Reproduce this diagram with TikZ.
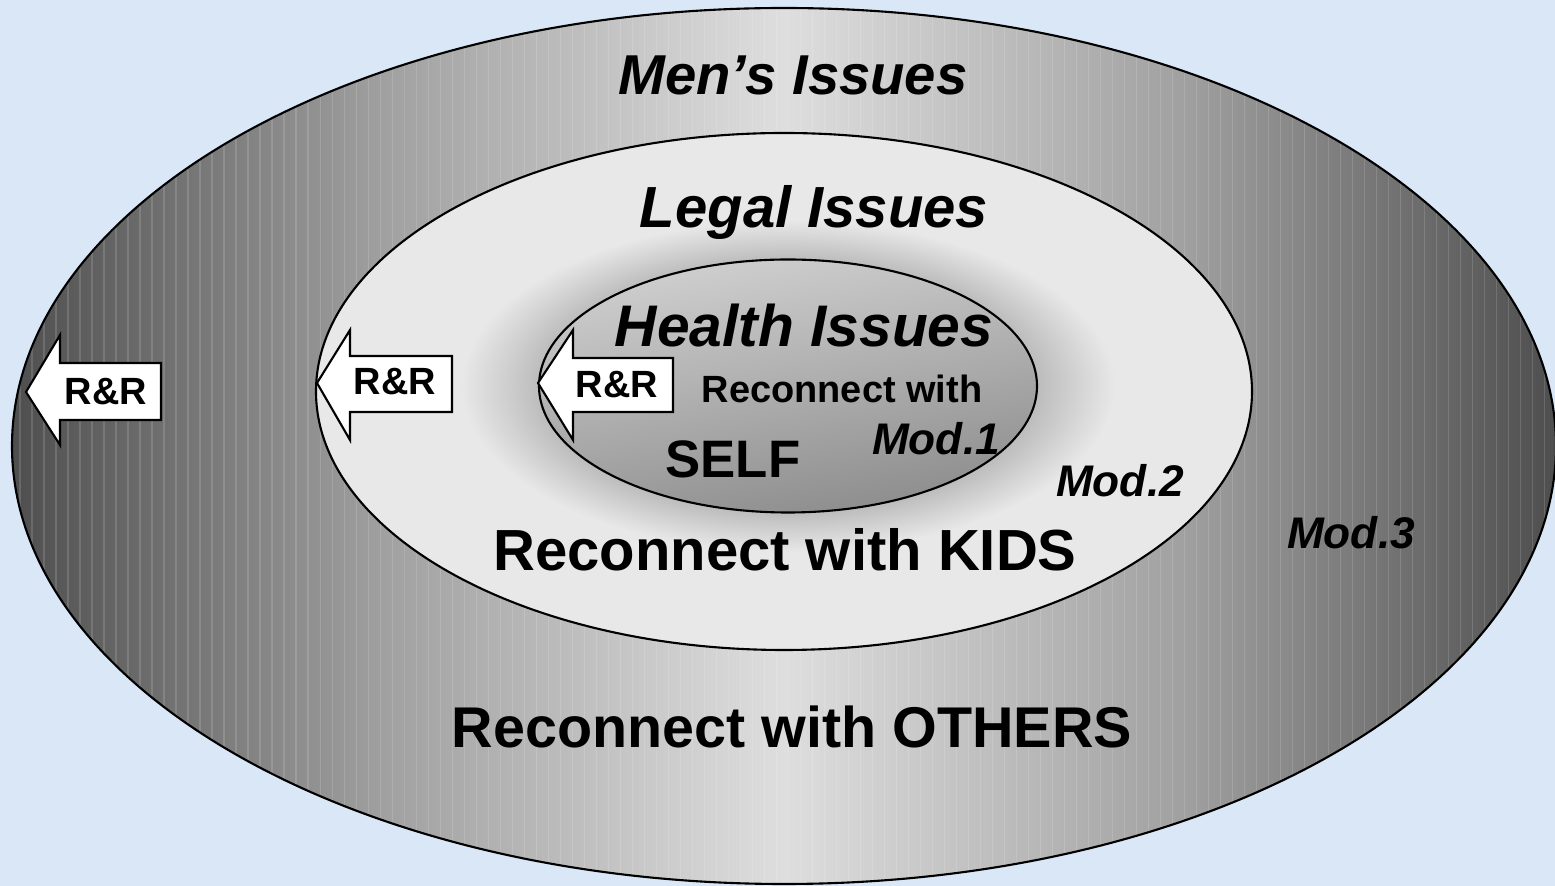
\documentclass[tikz,border=0pt]{standalone}
\usepackage{fontspec}
\setmainfont{Liberation Sans}
\definecolor{paper}{RGB}{218,231,246}
\definecolor{bandedge}{RGB}{78,78,78}
\definecolor{bandmid}{RGB}{160,160,160}
\definecolor{bandlight}{RGB}{222,222,222}
\definecolor{midfill}{RGB}{232,232,232}
\definecolor{glowdark}{RGB}{188,188,188}
\definecolor{coretop}{RGB}{208,208,208}
\definecolor{corebot}{RGB}{140,140,140}
\pgfdeclarehorizontalshading{outerband}{100bp}{color(0bp)=(bandedge); color(25bp)=(bandedge); color(37bp)=(bandmid); color(50bp)=(bandlight); color(63bp)=(bandmid); color(75bp)=(bandedge); color(100bp)=(bandedge)}
\pgfdeclareradialshading{glow}{\pgfpoint{0bp}{0bp}}{color(0bp)=(glowdark); color(19bp)=(glowdark); color(25bp)=(midfill); color(50bp)=(midfill)}
\tikzset{
  ring/.style={draw=black, line width=0.6pt},
  rr/.style={draw=black, fill=white, line width=0.6pt, line join=miter},
  big/.style={anchor=base, font=\bfseries\fontsize{#1}{#1}\selectfont},
  issue/.style={anchor=base, font=\bfseries\itshape\fontsize{#1}{#1}\selectfont},
}
\begin{document}
\begin{tikzpicture}
\useasboundingbox (0,0) rectangle (15.55,8.86);
\fill[paper] (0,0) rectangle (15.55,8.86);

\shade[shading=outerband] (7.84,4.40) ellipse (7.72 and 4.38);
\begin{scope}
\clip (7.84,4.40) ellipse (7.72 and 4.38);
\foreach \x in {0.2,0.32,...,15.5}
  \draw[white, opacity=0.14, line width=0.3pt] (\x,0) -- (\x,8.86);
\end{scope}
\draw[ring] (7.84,4.40) ellipse (7.72 and 4.38);
\fill[midfill] (7.84,4.945) ellipse (4.68 and 2.585);
\shade[shading=glow] (7.88,5.00) ellipse (3.27 and 1.66);
\draw[ring] (7.84,4.945) ellipse (4.68 and 2.585);
\shade[ring, top color=coretop, bottom color=corebot, shading angle=10] (7.88,5.00) ellipse (2.49 and 1.265);

\draw[rr] (0.26,4.94) -- (0.60,5.51) -- (0.60,5.23) -- (1.61,5.23) -- (1.61,4.66) -- (0.60,4.66) -- (0.60,4.41) -- cycle;
\node[big=10.8] at (1.06,4.81) (rr3) {R\&R};
\draw[rr] (3.17,5.03) -- (3.50,5.56) -- (3.50,5.30) -- (4.52,5.30) -- (4.52,4.74) -- (3.50,4.74) -- (3.50,4.46) -- cycle;
\node[big=10.8] at (3.95,4.91) (rr2) {R\&R};
\draw[rr] (5.38,5.03) -- (5.73,5.56) -- (5.73,5.28) -- (6.73,5.28) -- (6.73,4.74) -- (5.73,4.74) -- (5.73,4.46) -- cycle;
\node[big=10.8] at (6.17,4.88) (rr1) {R\&R};

\node[issue=16] at (7.93,7.91) (men) {Men’s Issues};
\node[issue=16.5] at (8.14,6.58) (legal) {Legal Issues};
\node[issue=16.7] at (8.04,5.39) (health) {Health Issues};
\node[big=10.8] at (8.42,4.83) (self1) {Reconnect with};
\node[big=15] at (7.33,4.08) (self2) {SELF};
\node[issue=12.6] at (9.36,4.31) (mod1) {Mod.1};
\node[issue=12.6] at (11.20,3.89) (mod2) {Mod.2};
\node[issue=12.6] at (13.51,3.37) (mod3) {Mod.3};
\node[big=16.5] at (7.85,3.15) (kids) {Reconnect with KIDS};
\node[big=16.35] at (7.92,1.38) (others) {Reconnect with OTHERS};
\end{tikzpicture}
\end{document}
